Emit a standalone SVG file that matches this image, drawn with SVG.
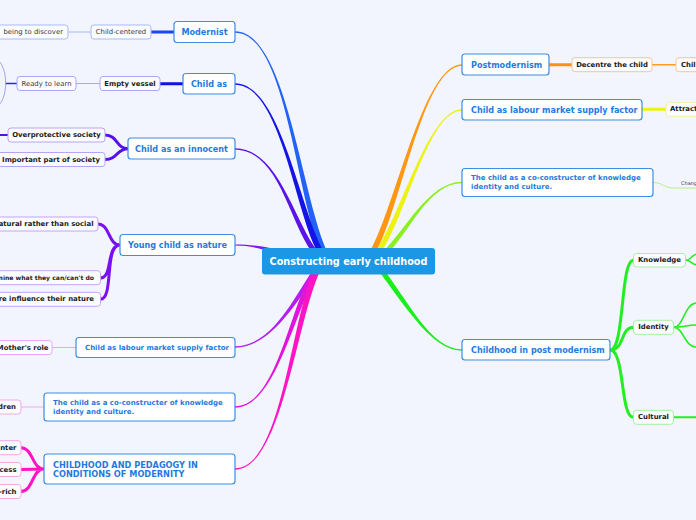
<svg xmlns="http://www.w3.org/2000/svg" width="696" height="520" viewBox="0 0 696 520">
<style>
text{font-family:"DejaVu Sans",Verdana,sans-serif;dominant-baseline:central}
.main rect{fill:#fff;stroke:#3b8de6;stroke-width:1.2}
.main text{fill:#1f7ade;font-weight:bold;font-size:8.1px}
.sub rect{fill:#fbfcff;stroke-width:1}
.sub text{fill:#1a1a1a;font-weight:bold;font-size:6.9px}
.sub text.n{font-weight:normal;fill:#3a3a3a}
.mid{text-anchor:middle}
.end{text-anchor:end}
.c path.l,.c line{fill:none;stroke-linecap:round}
.sb rect{stroke:#a9b9f8}.sv rect{stroke:#aaa8f4}.si rect{stroke:#b9a4f4}.sn rect{stroke:#c8a2f6}
.sl rect{stroke:#e4a8f8}.sc rect{stroke:#f2a8ee}.sp rect{stroke:#fca6e0}.so rect{stroke:#fcc68c}
.sy rect{stroke:#eef2a0}.sg rect{stroke:#a2f2a2}
</style>
<rect width="696" height="520" fill="#f2f5fd"/>
<g id="connectors" class="c">
<path d="M235,31.3 C290,31.3 303.2,220 333.2,262 L326.8,262 C296.8,220 290,32.7 235,32.7 Z" fill="#2262f6"/>
<path d="M235,83.3 C285,83.3 303.2,235 331.2,262 L324.8,262 C296.8,235 285,84.7 235,84.7 Z" fill="#1414e6"/>
<path d="M235,148.3 C285,148.3 298.2,245 329.2,262 L322.8,262 C291.8,245 285,149.7 235,149.7 Z" fill="#5a14e8"/>
<path d="M235,244.5 C255,244.5 270,248 300,254 L300,258 C270,252 255,245.5 235,245.5 Z" fill="#8a14ee"/>
<path d="M235,346.3 C275,346.3 296.8,290 318.8,262 L325.2,262 C303.2,290 275,347.7 235,347.7 Z" fill="#b41ef0"/>
<path d="M235,406.3 C280,406.3 291.8,290 318.8,262 L325.2,262 C298.2,290 280,407.7 235,407.7 Z" fill="#e214dc"/>
<path d="M235,468.3 C285,468.3 291.8,300 318.8,262 L325.2,262 C298.2,300 285,469.7 235,469.7 Z" fill="#ff14c4"/>
<path d="M462,64.3 C420,64.3 391.8,230 362.8,262 L369.2,262 C398.2,230 420,65.7 462,65.7 Z" fill="#ff9614"/>
<path d="M462,109.3 C425,109.3 396.8,235 366.8,262 L373.2,262 C403.2,235 425,110.7 462,110.7 Z" fill="#eef212"/>
<path d="M462,181.8 C425,181.8 401.8,240 371.8,262 L378.2,262 C408.2,240 425,183.2 462,183.2 Z" fill="#8cf020"/>
<path d="M462,349.3 C430,349.3 408.2,300 378.2,262 L371.8,262 C401.8,300 430,350.7 462,350.7 Z" fill="#1cee1c"/>
<line x1="151" y1="32" x2="174" y2="32" stroke="#1448f0" stroke-width="3"/>
<line x1="68" y1="32" x2="91" y2="32" stroke="#a9b9f8" stroke-width="1"/>
<line x1="160" y1="83.7" x2="183" y2="83.7" stroke="#1010e8" stroke-width="3"/>
<line x1="76" y1="83.5" x2="100" y2="83.5" stroke="#aaa8f4" stroke-width="1"/>
<line x1="6" y1="83.5" x2="17" y2="83.5" stroke="#2a2ae0" stroke-width="1.5"/>
<path class="l" d="M-1,61 C8,70 8,96 -1,105" stroke="#a0a0f0" stroke-width="1"/>
<path class="l" d="M128,148.7 C116,148.7 118,135 105,135 M128,148.7 C116,148.7 118,159.5 105,159.5" stroke="#5512e6" stroke-width="3"/>
<line x1="0" y1="135" x2="8" y2="135" stroke="#5512e6" stroke-width="2"/>
<path class="l" d="M120,245 C108,245 110,224 98,224 M120,245 C106,245 113,278 100.5,278 M120,245 C104,245 114,299.3 100.5,299.3" stroke="#7a10f0" stroke-width="3"/>
<line x1="52" y1="347.5" x2="76" y2="347.5" stroke="#e4a8f8" stroke-width="1"/>
<line x1="21" y1="407" x2="44" y2="407" stroke="#f2a8ee" stroke-width="1"/>
<path class="l" d="M44,469 C32,469 33,447.7 21,447.7 M44,469 L21,469.5 M44,469 C32,469 33,491.5 21,491.5" stroke="#ff14c4" stroke-width="3"/>
<line x1="549" y1="64.7" x2="572" y2="64.7" stroke="#ff9014" stroke-width="3"/>
<line x1="652" y1="64.7" x2="676" y2="64.7" stroke="#ff9a24" stroke-width="1.5"/>
<line x1="642" y1="109.3" x2="666" y2="109.3" stroke="#eef214" stroke-width="3"/>
<path class="l" d="M653,182.5 C664,182.5 662,188 675,188 L697,188" stroke="#b4f088" stroke-width="1"/>
<path class="l" d="M610,350 C625,350 620,260.3 633.5,260.3 M610,350 C625,350 620,327.3 633.5,327.3 M610,350 C625,350 620,417.3 633.5,417.3" stroke="#22ee22" stroke-width="3"/>
<path class="l" d="M686,260.3 C691,260.3 691,255 697,254 M686,260.3 C691,260.3 691,264 697,265" stroke="#22ee22" stroke-width="1.5"/>
<path class="l" d="M673.5,327.3 C684,327.3 684,303 697,303 M673.5,327.3 C684,327.3 686,325 697,325 M673.5,327.3 C684,327.3 684,347.3 697,347.3" stroke="#22ee22" stroke-width="1.5"/>
<line x1="673.5" y1="417.3" x2="697" y2="417.3" stroke="#22ee22" stroke-width="2"/>
</g>
<g id="root"><rect x="262" y="248" width="173" height="26.5" rx="3" fill="#1b97e6"/><text x="348.5" y="261.5" class="mid" fill="#fff" font-weight="bold" font-size="9.7px">Constructing early childhood</text></g>
<g id="modernist" class="main"><rect x="174" y="21.5" width="61" height="21" rx="3"/><text x="204.5" y="32" class="mid">Modernist</text></g>
<g id="child-as" class="main"><rect x="183" y="73.5" width="52" height="20.5" rx="3"/><text x="209" y="83.8" class="mid">Child as</text></g>
<g id="innocent" class="main"><rect x="128" y="138" width="107" height="21" rx="3"/><text x="181.5" y="148.7" class="mid">Child as an innocent</text></g>
<g id="nature" class="main"><rect x="120" y="234.5" width="115" height="21" rx="3"/><text x="177.5" y="245" class="mid">Young child as nature</text></g>
<g id="labour-left" class="main"><rect x="76" y="337.5" width="159" height="20" rx="3"/><text x="85" y="347.5" style="font-size:7px">Child as labour market supply factor</text></g>
<g id="coconstructer-left" class="main"><rect x="44" y="393" width="191" height="28" rx="3"/><text x="53" y="403" style="font-size:7px">The child as a co-constructer of knowledge</text><text x="53" y="412" style="font-size:7px">identity and culture.</text></g>
<g id="pedagogy" class="main"><rect x="44" y="454" width="191" height="30" rx="3"/><text x="53" y="465" style="font-size:8.2px">CHILDHOOD AND PEDAGOGY IN</text><text x="53" y="474" style="font-size:8.2px">CONDITIONS OF MODERNITY</text></g>
<g id="postmodernism" class="main"><rect x="462" y="54" width="87" height="21" rx="3"/><text x="471" y="64.7">Postmodernism</text></g>
<g id="labour-right" class="main"><rect x="462" y="99.5" width="180" height="20.5" rx="3"/><text x="471" y="109.8">Child as labour market supply factor</text></g>
<g id="coconstructer-right" class="main"><rect x="462" y="168.5" width="191" height="28" rx="3"/><text x="471" y="178.2" style="font-size:7px">The child as a co-constructer of knowledge</text><text x="471" y="187.2" style="font-size:7px">identity and culture.</text></g>
<g id="post-modernism" class="main"><rect x="462" y="339.5" width="148" height="20.5" rx="3"/><text x="471" y="349.8">Childhood in post modernism</text></g>
<g id="child-centered" class="sub sb"><rect x="91" y="25" width="60" height="14" rx="3"/><text x="121" y="32" class="mid n">Child-centered</text></g>
<g id="discover" class="sub sb"><rect x="-40" y="25" width="108" height="14" rx="3"/><text x="63" y="32" class="end n">being to discover</text></g>
<g id="empty-vessel" class="sub sv"><rect x="100" y="76.5" width="60" height="14" rx="3"/><text x="130" y="83.5" class="mid">Empty vessel</text></g>
<g id="ready" class="sub sv"><rect x="17" y="76.5" width="59" height="14" rx="3"/><text x="46.5" y="83.5" class="mid n">Ready to learn</text></g>
<g id="overprotective" class="sub si"><rect x="8" y="128" width="97" height="14" rx="3"/><text x="56.5" y="135" class="mid">Overprotective society</text></g>
<g id="important" class="sub si"><rect x="-10" y="152.5" width="115" height="14" rx="3"/><text x="100" y="159.5" class="end">Important part of society</text></g>
<g id="natural" class="sub sn"><rect x="-10" y="217" width="108" height="14" rx="3"/><text x="93.5" y="224" class="end">atural rather than social</text></g>
<g id="determine" class="sub sn"><rect x="-10" y="270.7" width="110.5" height="14" rx="3"/><text x="94" y="277.7" class="end" style="font-size:6.1px">nine what they can/can't do</text></g>
<g id="influence" class="sub sn"><rect x="-10" y="292.3" width="110.5" height="14" rx="3"/><text x="94" y="299.3" class="end">re influence their nature</text></g>
<g id="mother" class="sub sl"><rect x="-10" y="340.5" width="62" height="14" rx="3"/><text x="48.5" y="347.5" class="end">Mother's role</text></g>
<g id="children" class="sub sc"><rect x="-10" y="400" width="31" height="14" rx="3"/><text x="16" y="407" class="end">dren</text></g>
<g id="center" class="sub sp"><rect x="-10" y="440.7" width="31" height="14" rx="3"/><text x="16.5" y="447.7" class="end">nter</text></g>
<g id="process" class="sub sp"><rect x="-10" y="462.5" width="31" height="14" rx="3"/><text x="16.5" y="469.5" class="end">cess</text></g>
<g id="rich" class="sub sp"><rect x="-10" y="484.5" width="31" height="14" rx="3"/><text x="16.5" y="491.5" class="end">-rich</text></g>
<g id="decentre" class="sub so"><rect x="572" y="57.7" width="80" height="14" rx="3"/><text x="612" y="64.7" class="mid">Decentre the child</text></g>
<g id="chil" class="sub so"><rect x="676" y="57.7" width="40" height="14" rx="3"/><text x="681" y="64.7">Chil</text></g>
<g id="attract" class="sub sy"><rect x="666" y="102.3" width="40" height="14" rx="3"/><text x="670" y="109.3">Attract</text></g>
<g id="chang" class="sub"><text x="681" y="183.3" class="n" style="font-size:5px">Chang</text></g>
<g id="knowledge" class="sub sg"><rect x="633.5" y="253.5" width="52" height="13.5" rx="3"/><text x="659.5" y="260.3" class="mid">Knowledge</text></g>
<g id="identity" class="sub sg"><rect x="633.5" y="320.3" width="40" height="14" rx="3"/><text x="653.5" y="327.3" class="mid">Identity</text></g>
<g id="cultural" class="sub sg"><rect x="633.5" y="410.3" width="40" height="14" rx="3"/><text x="653.5" y="417.3" class="mid">Cultural</text></g>
</svg>
